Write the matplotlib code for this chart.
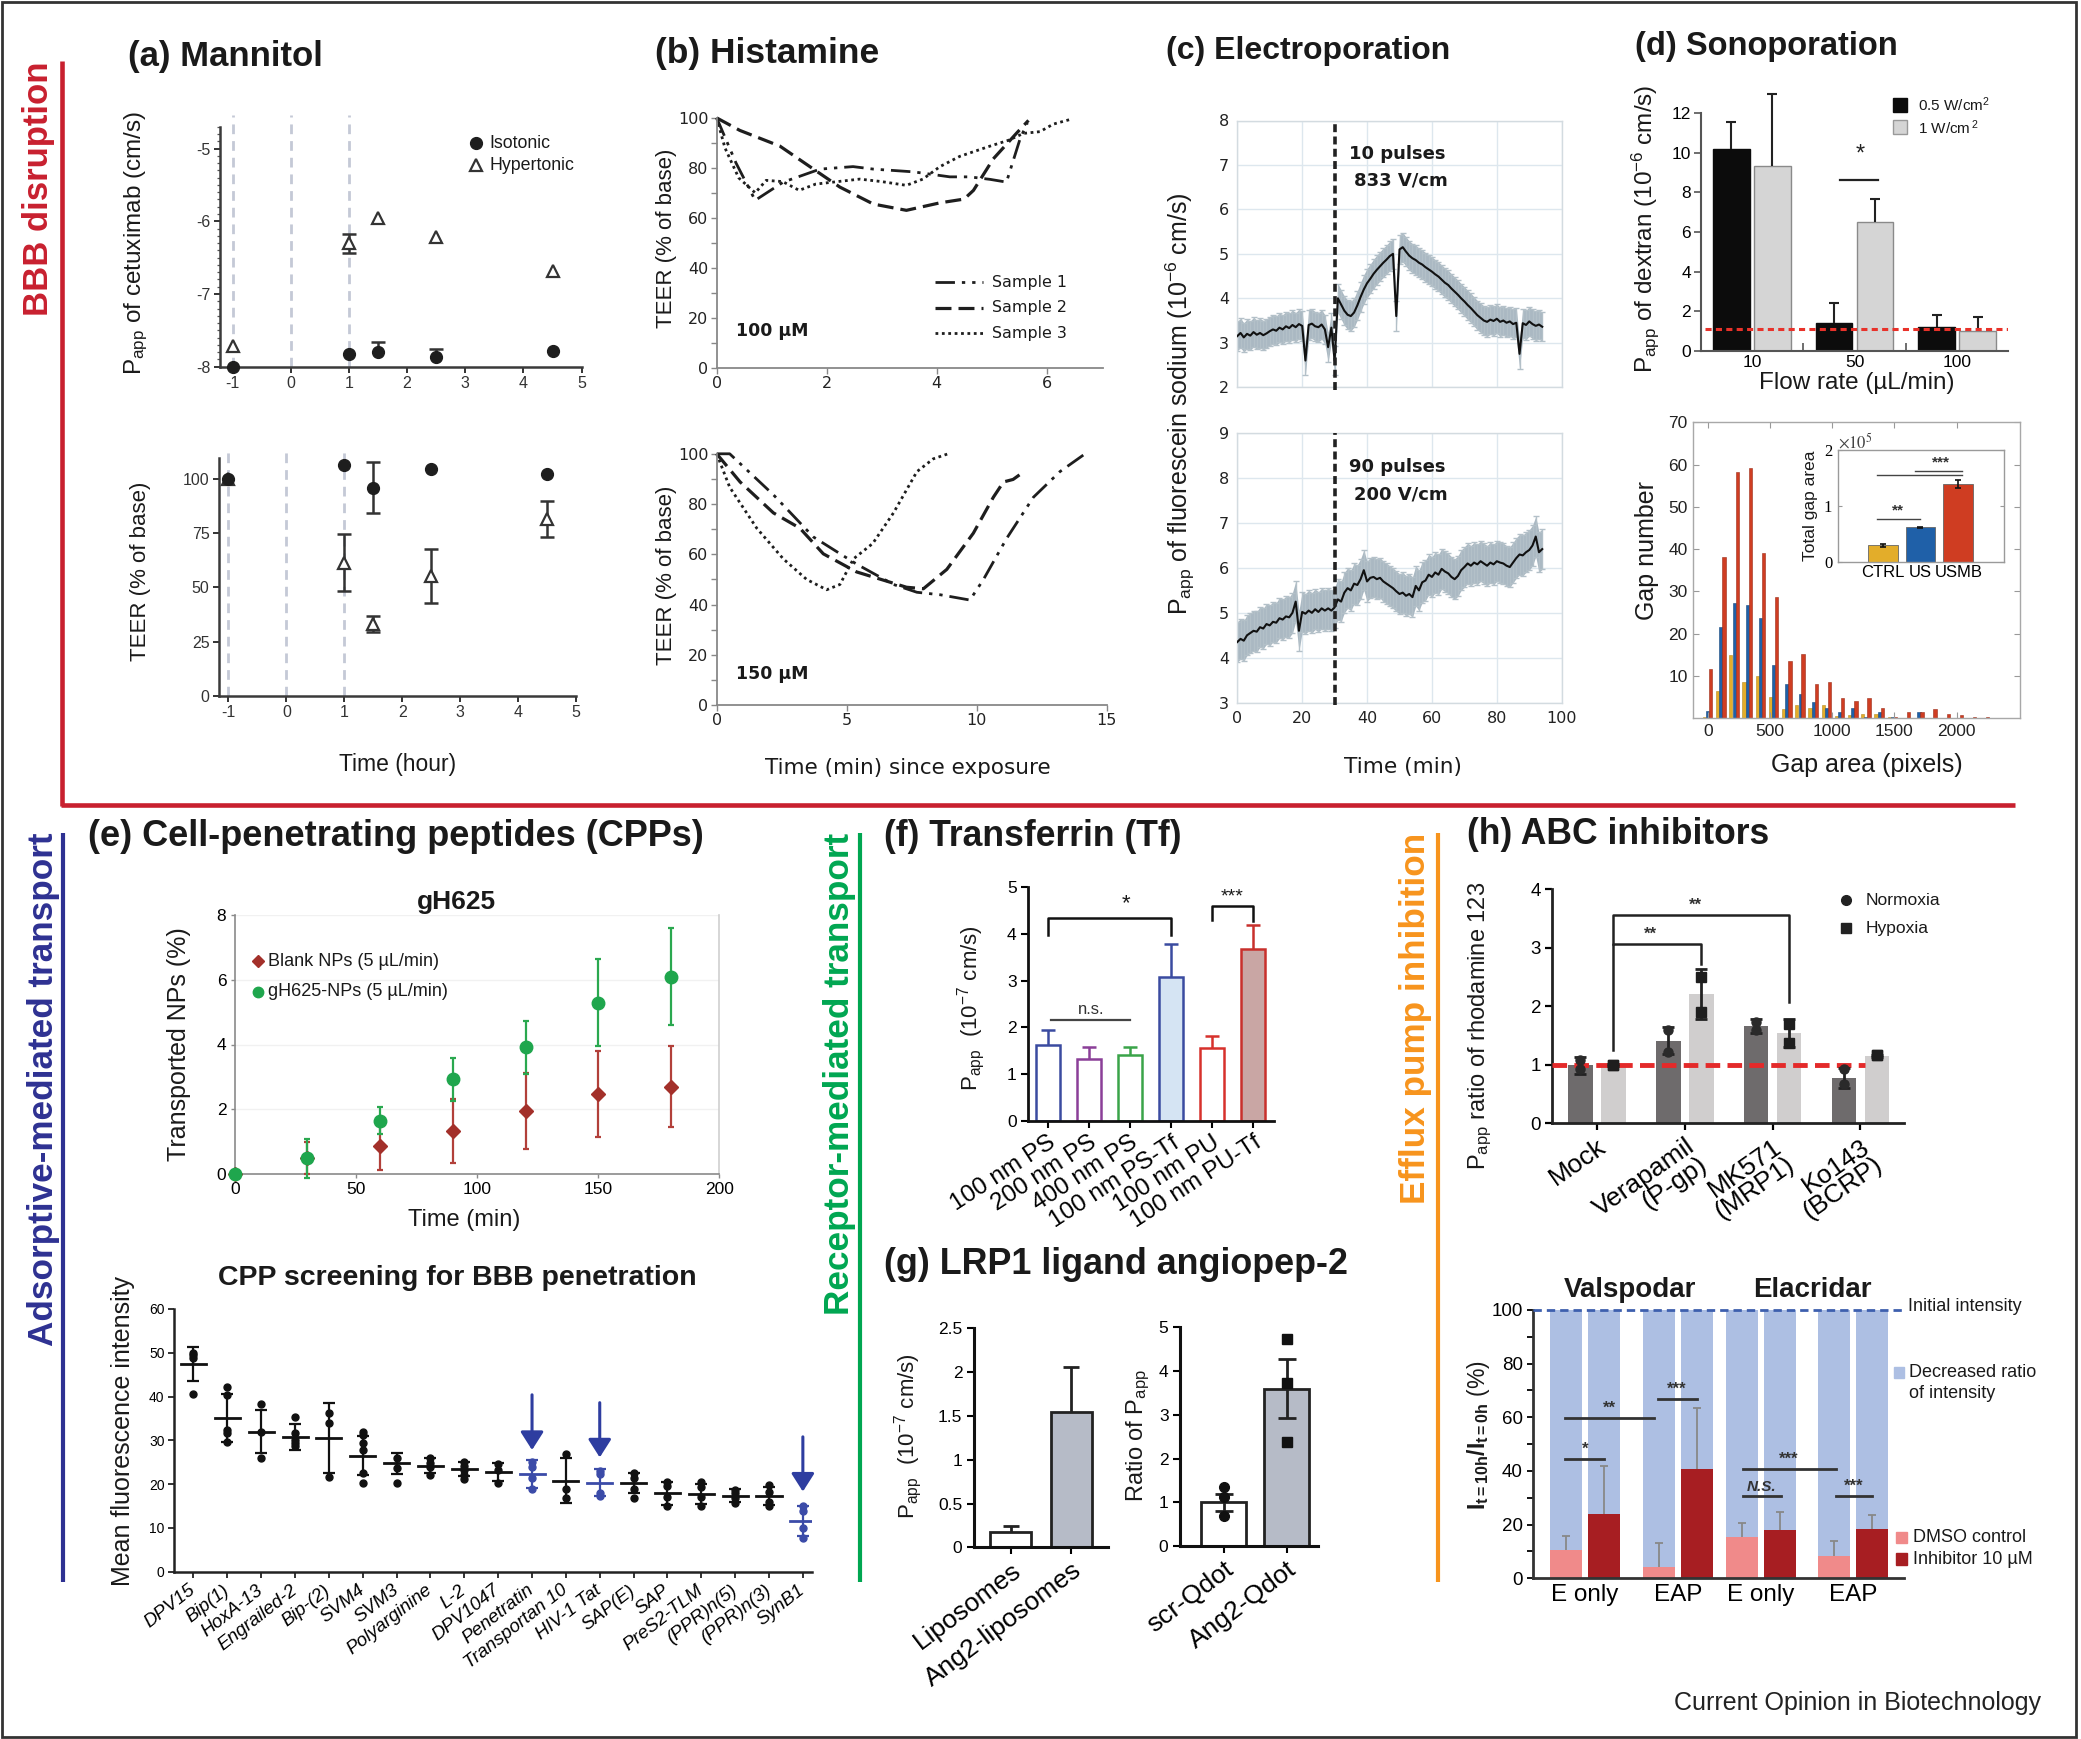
import numpy as np
import matplotlib
matplotlib.use('Agg')
import matplotlib.pyplot as plt
from matplotlib.lines import Line2D
from matplotlib.patches import Rectangle
from matplotlib.ticker import MultipleLocator

plt.rcParams['font.family'] = ['Liberation Sans', 'DejaVu Sans']
plt.rcParams['mathtext.fontset'] = 'custom'
plt.rcParams['mathtext.rm'] = 'Liberation Sans'
plt.rcParams['mathtext.it'] = 'Liberation Sans:italic'
plt.rcParams['mathtext.bf'] = 'Liberation Sans:bold'
plt.rcParams['axes.unicode_minus'] = False
plt.rcParams['text.color'] = '#1a1a1a'

# ====================== DATA ======================
# (a) Mannitol
a_time = [-1, 1, 1.5, 2.5, 4.5]
a_events = [-1, 0, 1]
a_papp_iso = [-8.0, -7.82, -7.80, -7.87, -7.78]
a_papp_iso_err = [0, 0, 0.14, 0.11, 0]
a_papp_hyper = [-7.72, -6.30, -5.96, -6.21, -6.69]
a_papp_hyper_err = [0, 0.13, 0, 0, 0]
a_teer_iso = [100, 106.6, 96.1, 104.8, 102.5]
a_teer_iso_err = [0, 0, 11.7, 0, 0]
a_teer_hyper = [100, 61.5, 33.1, 55.5, 81.5]
a_teer_hyper_err = [0, 13.0, 3.6, 12.5, 8.3]

# (b) Histamine  (time in min, TEER %)
b100_s1_t = [0, 0.35, 0.7, 1.21, 1.88, 2.48, 2.85, 3.58, 4.24, 4.6, 4.97, 5.27, 5.52, 5.65]
b100_s1_v = [100, 82, 67, 74.3, 79.5, 80.5, 79.5, 78.4, 76.4, 76.4, 75.4, 74.3, 91.8, 98]
b100_s2_t = [0, 0.42, 1.15, 1.76, 2.24, 2.85, 3.45, 4.06, 4.5, 4.67, 5.03, 5.45, 5.67]
b100_s2_v = [100, 95, 88.7, 79.5, 72.3, 65.5, 63, 66, 67.5, 71, 83.6, 93.8, 99]
b100_s3_t = [0, 0.15, 0.4, 0.7, 0.9, 1.2, 1.5, 1.8, 2.2, 2.6, 3.0, 3.45, 3.75, 4.06, 4.42, 4.97, 5.3, 5.58, 5.88, 6.12, 6.45]
b100_s3_v = [100, 88, 76, 70, 75, 74.5, 71, 73.5, 74.5, 75.5, 74.5, 73, 75.5, 80.5, 84.6, 88.7, 91, 93.8, 94.5, 97.5, 99.5]
b150_s1_t = [0, 0.5, 2.18, 3.72, 5.38, 6.8, 7.7, 8.6, 9.74, 10.26, 11.15, 12.18, 13.2, 14.17]
b150_s1_v = [100, 100, 83.7, 66.9, 56.1, 48, 44.9, 43.9, 41.8, 50, 66.3, 82.7, 92.9, 100]
b150_s2_t = [0, 0.9, 2.18, 3.2, 4.1, 5.38, 7.3, 7.95, 8.85, 9.87, 10.64, 11.03, 11.4, 11.67]
b150_s2_v = [100, 88.8, 76.5, 70.4, 60.2, 53, 46.9, 46.3, 54, 68.4, 82.7, 88.8, 89.8, 91.8]
b150_s3_t = [0, 0.5, 1.54, 2.56, 3.46, 4.23, 4.74, 5.26, 6.0, 6.8, 7.7, 8.33, 8.9]
b150_s3_v = [100, 86.7, 70.4, 58.2, 50, 45.9, 48, 58.2, 64.3, 76.5, 92.9, 98, 100]

# (c) Electroporation: Papp sampled each minute from t = 0
c_top = [3.15, 3.22, 3.12, 3.2, 3.16, 3.24, 3.18, 3.22, 3.17, 3.21, 3.26, 3.3, 3.27, 3.34, 3.3, 3.37,
         3.33, 3.4, 3.35, 3.42, 3.38, 2.6, 3.4, 3.43, 3.37, 3.35, 3.41, 3.3, 2.9, 3.34, 2.6, 4.0, 3.86,
         3.72, 3.63, 3.6, 3.68, 3.84, 4.03, 4.2, 4.34, 4.44, 4.55, 4.64, 4.72, 4.8, 4.87, 4.95, 5.0,
         3.6, 5.1, 5.15, 5.05, 4.96, 4.9, 4.86, 4.8, 4.76, 4.7, 4.65, 4.6, 4.54, 4.49, 4.42, 4.35, 4.3,
         4.22, 4.15, 4.08, 4.0, 3.93, 3.85, 3.78, 3.7, 3.62, 3.56, 3.5, 3.47, 3.52, 3.49, 3.54, 3.47,
         3.5, 3.45, 3.48, 3.42, 3.45, 2.75, 3.44, 3.4, 3.48, 3.42, 3.38, 3.41, 3.36]
c_top_err = 0.33
c_bot = [4.35, 4.42, 4.38, 4.5, 4.55, 4.6, 4.58, 4.68, 4.65, 4.75, 4.72, 4.8, 4.78, 4.88, 4.85, 4.92,
         4.9, 5.0, 5.25, 4.6, 5.02, 4.98, 5.05, 5.0, 5.08, 5.02, 5.1, 5.05, 5.1, 5.05, 5.12, 5.3, 5.25,
         5.45, 5.55, 5.5, 5.65, 5.62, 5.75, 5.95, 5.7, 5.78, 5.8, 5.75, 5.78, 5.7, 5.65, 5.6, 5.55, 5.48,
         5.42, 5.45, 5.38, 5.42, 5.35, 5.6, 5.5, 5.68, 5.72, 5.85, 5.8, 5.9, 5.85, 5.98, 5.92, 5.88, 5.8,
         5.75, 5.82, 5.95, 6.02, 6.1, 6.05, 6.12, 6.08, 6.15, 6.1, 6.05, 6.12, 6.08, 6.15, 6.12, 6.1,
         6.05, 6.02, 6.12, 6.22, 6.3, 6.28, 6.35, 6.4, 6.5, 6.7, 6.35, 6.42]
c_bot_err = 0.45
c_pulse_time = 30

# (d) Sonoporation
d_flow = ['10', '50', '100']
d_p05 = [10.18, 1.42, 1.21]
d_p05_err = [1.40, 1.01, 0.59]
d_p1 = [9.34, 6.49, 1.01]
d_p1_err = [3.64, 1.16, 0.68]
d_baseline = 1.1
d_hist_ctrl = [0.4, 6.5, 14.9, 8.5, 9.9, 5.1, 2.1, 3.2, 2.4, 3.2, 0.6, 0.8, 1.1, 1.1, 0.4, 0, 0, 0, 0, 0, 0, 0, 0, 0]
d_hist_us = [1.7, 21.5, 27.3, 26.8, 23.8, 12.5, 8.1, 5.8, 3.8, 2.4, 1.5, 2.4, 0.4, 1.4, 0.4, 0, 1.4, 0, 0, 0, 0, 0, 0, 0]
d_hist_usmb = [11.7, 38.2, 58.3, 59.3, 39.2, 28.6, 13.5, 15.1, 8.1, 8.5, 4.7, 4.2, 4.7, 2.4, 0.4, 1.4, 1.4, 2.1, 1.1, 0.7, 0.2, 0.4, 0.1, 0.1]
d_bin_width = 106
d_groups = ['CTRL', 'US', 'USMB']
d_total = [0.30, 0.62, 1.40]
d_total_err = [0.02, 0.01, 0.07]

# (e) CPPs
e_time = [0, 30, 60, 90, 120, 150, 180]
e_blank = [0, 0.5, 0.85, 1.33, 1.95, 2.46, 2.7]
e_blank_err = [0, 0.5, 0.72, 1.0, 1.18, 1.33, 1.25]
e_gh = [0, 0.48, 1.65, 2.92, 3.91, 5.29, 6.1]
e_gh_err = [0, 0.6, 0.42, 0.65, 0.83, 1.35, 1.5]
cpp_names = ['DPV15', 'Bip(1)', 'HoxA-13', 'Engrailed-2', 'Bip-(2)', 'SVM4', 'SVM3', 'Polyarginine',
             'L-2', 'DPV1047', 'Penetratin', 'Transportan 10', 'HIV-1 Tat', 'SAP(E)', 'SAP',
             'PreS2-TLM', '(PPR)n(5)', '(PPR)n(3)', 'SynB1']
cpp_mean = [47.4, 35.2, 32.0, 30.8, 30.5, 26.5, 24.8, 24.2, 23.5, 22.8, 22.3, 20.8, 20.3, 20.2, 17.9,
            17.7, 17.4, 17.3, 11.6]
cpp_sem = [3.9, 5.5, 4.9, 2.9, 8.0, 4.5, 2.4, 1.7, 1.6, 2.0, 3.2, 5.1, 3.1, 2.3, 2.7, 2.3, 1.4, 2.0, 3.5]
cpp_points = [[50.0, 49.5, 48.8, 40.6], [42.1, 40.4, 32.4, 31.6, 29.7], [38.3, 31.8, 25.9],
              [35.4, 31.6, 30.1, 29.3, 28.6], [36.2, 34.0, 21.6], [32.0, 31.2, 29.3, 27.8, 22.5, 20.2],
              [25.9, 23.6, 20.3], [25.9, 24.9, 24.0, 22.2], [25.1, 24.1, 23.2, 22.1, 21.1],
              [24.6, 23.2, 20.2], [25.1, 24.0, 21.3, 18.8], [26.8, 19.0, 16.8], [23.1, 22.3, 18.0, 17.3],
              [22.5, 21.3, 19.0, 16.8], [20.6, 19.6, 17.1, 14.9], [20.6, 19.4, 17.0, 14.9],
              [18.7, 18.0, 16.8, 15.6], [19.8, 18.1, 16.0, 14.9], [14.9, 13.9, 9.9, 7.6]]
cpp_highlight = ['Penetratin', 'HIV-1 Tat', 'SynB1']

# (f) Transferrin
f_labels = ['100 nm PS', '200 nm PS', '400 nm PS', '100 nm PS-Tf', '100 nm PU', '100 nm PU-Tf']
f_vals = [1.62, 1.32, 1.40, 3.07, 1.55, 3.67]
f_err = [0.32, 0.25, 0.18, 0.72, 0.27, 0.52]

# (g) Angiopep-2
g1_labels = ['Liposomes', 'Ang2-liposomes']
g1_vals = [0.17, 1.54]
g1_err = [0.07, 0.52]
g2_labels = ['scr-Qdot', 'Ang2-Qdot']
g2_vals = [1.0, 3.6]
g2_err = [0.2, 0.68]
g2_scr_pts = [1.36, 1.11, 0.69]
g2_ang_pts = [4.73, 3.73, 2.37]

# (h) ABC inhibitors
h_groups = ['Mock', 'Verapamil\n(P-gp)', 'MK571\n(MRP1)', 'Ko143\n(BCRP)']
h_norm = [0.99, 1.41, 1.66, 0.78]
h_norm_err = [0.14, 0.23, 0.12, 0.17]
h_hyp = [1.0, 2.21, 1.54, 1.15]
h_hyp_err = [0.02, 0.42, 0.24, 0.02]
h_norm_pts = [[1.08, 0.92], [1.6, 1.22], [1.6, 1.73], [0.92, 0.68]]
h_hyp_pts = [[1.0, 1.0], [2.5, 1.9], [1.7, 1.38], [1.16, 1.16]]
h2_groups = ['E only', 'EAP', 'E only', 'EAP']
h2_dmso = [10.6, 4.3, 15.5, 8.4]
h2_dmso_err = [5.3, 8.7, 5.0, 5.5]
h2_inh = [23.9, 40.6, 18.0, 18.4]
h2_inh_err = [18.1, 22.8, 6.8, 5.3]

# ====================== LAYOUT HELPERS ======================
W, H = 2081, 1739
fig = plt.figure(figsize=(W / 100, H / 100), dpi=100)


def add_ax(x0, y0, x1, y1):
    ax = fig.add_axes([x0 / W, 1 - y1 / H, (x1 - x0) / W, (y1 - y0) / H])
    ax.set_facecolor('none')
    return ax


def ftext(x, y, s, **kw):
    kw.setdefault('ha', 'center')
    kw.setdefault('va', 'center')
    return fig.text(x / W, 1 - y / H, s, **kw)


def fline(xs, ys, **kw):
    fig.add_artist(Line2D([x / W for x in xs], [1 - y / H for y in ys],
                          transform=fig.transFigure, **kw))


def fmark(x, y, **kw):
    fig.add_artist(Line2D([x / W], [1 - y / H], transform=fig.transFigure, ls='none', **kw))


def fpatch(x0, y0, x1, y1, color):
    fig.add_artist(Rectangle((x0 / W, 1 - y1 / H), (x1 - x0) / W, (y1 - y0) / H,
                             transform=fig.transFigure, color=color))


def style(ax, spines=('left', 'bottom'), color='#333', lw=1.5):
    for s in ax.spines:
        ax.spines[s].set_visible(s in spines)
        ax.spines[s].set_color(color)
        ax.spines[s].set_linewidth(lw)


def ebar(ax, x, y, lo, hi, color='#222', lw=1.5, cap=8, z=4):
    for xi, yi, l, h in zip(x, y, lo, hi):
        if l <= 0 and h <= 0:
            continue
        ax.plot([xi, xi], [yi - l, yi + h], color=color, lw=lw, zorder=z, clip_on=False,
                solid_capstyle='butt')
        for flag, yy in ((h > 0, yi + h), (l > 0, yi - l)):
            if flag:
                ax.plot([xi], [yy], marker='_', ms=cap, mew=lw, color=color, zorder=z, clip_on=False)


TITLE = dict(ha='left', va='center', weight='bold', color='#1a1a1a')

# ====================== SECTION FRAMES ======================
fig.add_artist(Rectangle((2 / W, 1 - 1737 / H), 2074 / W, 1735 / H, fill=False, ec='#333', lw=2,
                         transform=fig.transFigure))
RED, BLUE, GREEN, ORANGE = '#c8202f', '#2e3192', '#00a651', '#f7941d'
fline([62, 62], [61, 806], color=RED, lw=3.3, solid_capstyle='butt')
fline([60.8, 2015], [805, 805], color=RED, lw=3.3, solid_capstyle='butt')
ftext(38.8, 188.5, 'BBB disruption', rotation=90, size=25, weight='bold', color=RED)
fline([62.5, 62.5], [833, 1582], color=BLUE, lw=3, solid_capstyle='butt')
ftext(44, 833, 'Adsorptive-mediated transport', rotation=90, va='top', size=25.3, weight='bold', color=BLUE)
fline([860, 860], [833, 1582], color=GREEN, lw=3, solid_capstyle='butt')
ftext(840, 833, 'Receptor-mediated transport', rotation=90, va='top', size=25.3, weight='bold', color=GREEN)
fline([1438, 1438], [833, 1582], color=ORANGE, lw=3, solid_capstyle='butt')
ftext(1415, 833, 'Efflux pump inhibition', rotation=90, va='top', size=25.3, weight='bold', color=ORANGE)
ftext(1674, 1703, 'Current Opinion in Biotechnology', ha='left', size=18, color='#222')

# ====================== (a) Mannitol ======================
ftext(127.8, 56.7, '(a) Mannitol', size=25, **TITLE)
axa1 = add_ax(220.4, 126.7, 581.6, 366.7)
axa1.set_xlim(-1.21, 5.0)
axa1.set_ylim(-8.0, -4.70)
style(axa1, color='#3a3a3a', lw=1.8)
axa1.set_xticks(range(-1, 6))
axa1.set_yticks([-8, -7, -6, -5])
axa1.yaxis.set_minor_locator(MultipleLocator(0.1))
axa1.tick_params(which='major', direction='out', length=4, width=1.4, labelsize=11.5, colors='#333', pad=3)
axa1.tick_params(axis='y', which='minor', direction='out', length=2.5, width=0.9, colors='#555')
for xv in a_events:
    axa1.plot([xv, xv], [-8, -4.54], ls=(0, (3.5, 2.5)), color='#c4c9d6', lw=2, clip_on=False, zorder=0)
ebar(axa1, a_time, a_papp_iso, [0] * 5, a_papp_iso_err, color='#333', lw=1.8, cap=10)
ebar(axa1, a_time, a_papp_hyper, a_papp_hyper_err, a_papp_hyper_err, color='#333', lw=1.8, cap=10)
axa1.plot(a_time, a_papp_hyper, ls='none', marker='^', ms=9, mfc='white', mec='#333', mew=1.6, zorder=5)
axa1.plot(a_time, a_papp_iso, ls='none', marker='o', ms=8.5, color='#1e1e1e', zorder=6, clip_on=False)
fmark(475.5, 143.3, marker='o', ms=8.5, color='#1e1e1e')
fmark(475.5, 165, marker='^', ms=9, mfc='white', mec='#333', mew=1.6)
ftext(489.8, 143.3, 'Isotonic', ha='left', size=12.8)
ftext(489.8, 165, 'Hypertonic', ha='left', size=12.8)
ftext(136.7, 243, r'P$_{\rm app}$ of cetuximab (cm/s)', rotation=90, size=17.5)

axa2 = add_ax(219.2, 458.3, 576.3, 695.7)
axa2.set_xlim(-1.16, 5.0)
axa2.set_ylim(0, 109.7)
style(axa2, color='#3a3a3a', lw=1.8)
axa2.set_xticks(range(-1, 6))
axa2.set_yticks([0, 25, 50, 75, 100])
axa2.tick_params(which='major', direction='out', length=4, width=1.4, labelsize=11.5, colors='#333', pad=3)
for xv in a_events:
    axa2.plot([xv, xv], [0, 115], ls=(0, (3.5, 2.5)), color='#c4c9d6', lw=2, clip_on=False, zorder=0)
ebar(axa2, a_time, a_teer_iso, a_teer_iso_err, a_teer_iso_err, color='#333', lw=1.8, cap=10)
ebar(axa2, a_time, a_teer_hyper, a_teer_hyper_err, a_teer_hyper_err, color='#333', lw=1.8, cap=10)
axa2.plot(a_time, a_teer_hyper, ls='none', marker='^', ms=9, mfc='white', mec='#333', mew=1.6, zorder=5,
          clip_on=False)
axa2.plot(a_time, a_teer_iso, ls='none', marker='o', ms=8.5, color='#1e1e1e', zorder=6, clip_on=False)
ftext(140.8, 571.7, 'TEER (% of base)', rotation=90, size=16)
ftext(398, 765, 'Time (hour)', size=16.5)

# ====================== (b) Histamine ======================
ftext(655, 53.8, '(b) Histamine', size=25.5, **TITLE)
LS1 = (0, (7, 2.5, 1.2, 2.5, 1.2, 2.5))
LS2 = (0, (5, 2.2))
LS3 = (0, (1, 1.3))
for (box, xmax, xt, series, conc, cy) in [
        ((716.7, 117.9, 1102.7, 367.7), 7.02, [0, 2, 4, 6],
         [(b100_s1_t, b100_s1_v), (b100_s2_t, b100_s2_v), (b100_s3_t, b100_s3_v)], '100 µM', 330.8),
        ((716.7, 453.8, 1106.7, 705.1), 15.0, [0, 5, 10, 15],
         [(b150_s1_t, b150_s1_v), (b150_s2_t, b150_s2_v), (b150_s3_t, b150_s3_v)], '150 µM', 674.4)]:
    ax = add_ax(*box)
    ax.set_xlim(0, xmax)
    ax.set_ylim(0, 100)
    style(ax, color='#888', lw=1.3)
    ax.set_xticks(xt)
    ax.set_yticks(range(0, 101, 20))
    ax.yaxis.set_minor_locator(MultipleLocator(10))
    ax.tick_params(which='both', direction='out', length=4, width=1, color='#888', labelsize=11.5,
                   labelcolor='#222', labelfontfamily='DejaVu Sans', pad=2)
    for (t, v), ls, lw in zip(series, (LS1, LS2, LS3), (2.0, 2.3, 2.0)):
        ax.plot(t, v, color='#1e1e1e', lw=lw, ls=ls, clip_on=False)
    ftext(box[0] + 19, cy, conc, ha='left', size=12.5, weight='bold', family='DejaVu Sans')
for y, ls, lw, lab in [(282, LS1, 2.0, 'Sample 1'), (307.7, LS2, 2.3, 'Sample 2'), (333.3, LS3, 2.0, 'Sample 3')]:
    fline([935, 983], [y, y], color='#1e1e1e', lw=lw, ls=ls)
    ftext(991.7, y, lab, ha='left', size=11.4, family='DejaVu Sans')
ftext(666.7, 238.5, 'TEER (% of base)', rotation=90, size=16)
ftext(666.7, 575, 'TEER (% of base)', rotation=90, size=16)
ftext(908.3, 767.7, 'Time (min) since exposure', size=15.5, family='DejaVu Sans')

# ====================== (c) Electroporation ======================
ftext(1166, 51.3, '(c) Electroporation', size=23, **TITLE)
for box, vals, err, ylim, showx, txt, ty in [
        ((1237.3, 120.5, 1561.7, 387.2), c_top, c_top_err, (2, 8), False, ('10 pulses', '833 V/cm'), (153.8, 180.5)),
        ((1237.3, 433.3, 1561.7, 702.6), c_bot, c_bot_err, (3, 9), True, ('90 pulses', '200 V/cm'), (466.7, 494.9))]:
    ax = add_ax(*box)
    ax.set_xlim(0, 100)
    ax.set_ylim(*ylim)
    style(ax, spines=('left', 'bottom', 'top', 'right'), color='#d3dbe0', lw=1)
    ax.set_xticks(range(0, 101, 20))
    ax.set_yticks(range(ylim[0], ylim[1] + 1))
    ax.grid(color='#dde7ee', lw=1)
    ax.set_axisbelow(True)
    ax.tick_params(length=0, labelsize=11.5, labelcolor='#222', labelfontfamily='DejaVu Sans', pad=6,
                   labelbottom=showx)
    t = np.arange(len(vals))
    v = np.asarray(vals)
    ax.fill_between(t, v - err, v + err, color='#aab8c2', lw=0, zorder=1)
    ax.errorbar(t, v, yerr=err, fmt='none', ecolor='#b3c0c8', elinewidth=1, capsize=2.5, zorder=1)
    ax.plot(t, v, color='#111', lw=1.5, zorder=3)
    ax.plot([c_pulse_time, c_pulse_time], [ylim[0] - 0.06, ylim[1]], color='#222', lw=2.6,
            ls=(0, (2.2, 1.2)), clip_on=False, zorder=4)
    ftext(1349.3, ty[0], txt[0], ha='left', size=13, weight='bold', family='DejaVu Sans')
    ftext(1353.5, ty[1], txt[1], ha='left', size=13, weight='bold', family='DejaVu Sans')
ftext(1180, 403.8, r'P$_{\rm app}$ of fluorescein sodium (10$^{-6}$ cm/s)', rotation=90, size=18)
ftext(1403.3, 766.7, 'Time (min)', size=15.6, family='DejaVu Sans')

# ====================== (d) Sonoporation ======================
ftext(1635, 46.7, '(d) Sonoporation', size=23.5, **TITLE)
axd1 = add_ax(1700.7, 113.3, 2008.3, 350.7)
axd1.set_xlim(-0.5, 2.5)
axd1.set_ylim(0, 12)
style(axd1, color='#555', lw=1.5)
xd = np.arange(len(d_flow))
axd1.bar(xd - 0.2, d_p05, width=0.36, color='#0c0c0c', edgecolor='#0c0c0c', zorder=2)
axd1.bar(xd + 0.2, d_p1, width=0.36, color='#d5d5d5', edgecolor='#8a8a8a', lw=1, zorder=2)
ebar(axd1, xd - 0.2, d_p05, [0] * 3, d_p05_err, color='#222', lw=1.5, cap=7.5)
ebar(axd1, xd + 0.2, d_p1, [0] * 3, d_p1_err, color='#222', lw=1.5, cap=7.5)
axd1.plot([-0.46, 2.5], [d_baseline, d_baseline], color='#e8322a', lw=2.2, ls=(0, (2, 1.4)), zorder=5)
axd1.plot([0.86, 1.23], [8.63, 8.63], color='#222', lw=1.6)
axd1.text(1.06, 9.9, '*', ha='center', va='center', size=17, color='#222')
axd1.set_xticks(xd, d_flow)
axd1.set_xticks([0.5, 1.5], minor=True)
axd1.set_yticks(range(0, 13, 2))
axd1.tick_params(axis='x', which='major', length=0, labelsize=12.5, pad=3)
axd1.tick_params(axis='x', which='minor', direction='in', length=6, width=1.2, color='#555')
axd1.tick_params(axis='y', direction='out', length=5, width=1.2, labelsize=12.5, color='#555', pad=2)
fmark(1900, 105, marker='s', ms=10, color='#0c0c0c')
fmark(1900, 127.3, marker='s', ms=10, mfc='#d5d5d5', mec='#999', mew=1)
ftext(1918.3, 105, r'0.5 W/cm$^2$', ha='left', size=11)
ftext(1918.3, 127.3, r'1 W/cm$^{\,2}$', ha='left', size=11)
ftext(1645, 228.3, r'P$_{\rm app}$ of dextran (10$^{-6}$ cm/s)', rotation=90, size=17.5)
ftext(1856.7, 383.3, 'Flow rate (µL/min)', size=17.5)

axd2 = add_ax(1693.3, 422.3, 2020, 718.3)
axd2.set_xlim(-116, 2508)
axd2.set_ylim(0, 70)
style(axd2, spines=('left', 'bottom', 'top', 'right'), color='#a8a8a8', lw=1)
kb = np.arange(len(d_hist_usmb)) * d_bin_width
axd2.bar(kb - 27, d_hist_ctrl, width=26, color='#e3ad2a', edgecolor='#b88a20', lw=0.4)
axd2.bar(kb, d_hist_us, width=26, color='#1f60a8', edgecolor='#17477c', lw=0.4)
axd2.bar(kb + 24, d_hist_usmb, width=26, color='#cf3d22', edgecolor='#9c2d18', lw=0.4)
axd2.set_xticks(range(0, 2001, 500))
axd2.set_yticks(range(10, 71, 10))
axd2.tick_params(direction='in', top=True, right=True, length=4, width=0.8, color='#999',
                 labelsize=12.5, labelcolor='#222', pad=4)
ftext(1647.3, 550, 'Gap number', rotation=90, size=18)
ftext(1866.7, 765, 'Gap area (pixels)', size=18)

axi = add_ax(1837.7, 450, 2004, 562.3)
axi.set_xlim(-1.19, 3.21)
axi.set_ylim(0, 2)
axi.set_facecolor('white')
style(axi, spines=('left', 'bottom', 'top', 'right'), color='#9a9a9a', lw=1)
xi = np.arange(len(d_groups))
axi.bar(xi, d_total, width=0.79, color=['#e3ad2a', '#1f60a8', '#cf3d22'], edgecolor='#666', lw=0.6)
ebar(axi, xi, d_total, d_total_err, d_total_err, color='#111', lw=1.2, cap=4)
axi.plot([-0.16, 1.0], [0.77, 0.77], color='#444', lw=1)
axi.plot([0.85, 2.09], [1.62, 1.62], color='#444', lw=1)
axi.plot([-0.16, 2.1], [1.56, 1.56], color='#444', lw=1)
axi.text(0.41, 0.92, '**', ha='center', va='center', size=11, weight='bold', color='#333')
axi.text(1.53, 1.78, '***', ha='center', va='center', size=11, weight='bold', color='#333')
axi.set_xticks(xi, d_groups)
axi.set_yticks([0, 1, 2])
axi.tick_params(axis='x', length=0, labelsize=12, pad=2)
axi.tick_params(axis='y', direction='in', right=True, length=3, color='#999', labelsize=12,
                labelfontfamily='Liberation Serif', pad=4)
ftext(1838, 441.7, r'$\times10^{5}$', ha='left', size=12, color='#444', math_fontfamily='stix')
ftext(1810, 506, 'Total gap area', rotation=90, size=12.5)

# ====================== (e) CPPs ======================
ftext(87.8, 836.7, '(e) Cell-penetrating peptides (CPPs)', size=26, **TITLE)
axe1 = add_ax(234.7, 915, 719.4, 1174)
axe1.set_xlim(0, 200)
axe1.set_ylim(0, 8)
style(axe1, spines=('left', 'bottom', 'right'), color='#8a8a8a', lw=1.2)
axe1.spines['right'].set_color('#cfcfcf')
axe1.yaxis.grid(color='#f1f1f1', lw=1)
axe1.set_axisbelow(True)
axe1.set_xticks(range(0, 201, 50))
axe1.set_yticks(range(0, 9, 2))
axe1.tick_params(direction='out', length=3, width=1, color='#8a8a8a', labelsize=12.5, pad=3)
ebar(axe1, e_time, e_blank, e_blank_err, e_blank_err, color='#b2403a', lw=1.6, cap=5)
ebar(axe1, e_time, e_gh, e_gh_err, e_gh_err, color='#2aa84f', lw=1.6, cap=5)
axe1.plot(e_time, e_blank, ls='none', marker='D', ms=7.5, color='#a3302a', zorder=6, clip_on=False)
axe1.plot(e_time, e_gh, ls='none', marker='o', ms=9, color='#1fa64d', zorder=6, clip_on=False)
fmark(257.7, 961, marker='D', ms=6, color='#a3302a')
fmark(257.7, 991.7, marker='o', ms=7.5, color='#1fa64d')
ftext(267.9, 961, 'Blank NPs (5 µL/min)', ha='left', size=13)
ftext(267.9, 991.7, 'gH625-NPs (5 µL/min)', ha='left', size=13)
ftext(456.6, 901.7, 'gH625', size=19, weight='bold')
ftext(178.6, 1044, 'Transported NPs (%)', rotation=90, size=18)
ftext(464.3, 1220, 'Time (min)', size=17)

axe2 = add_ax(174.2, 1309, 812, 1571.7)
axe2.set_xlim(-0.57, 18.27)
axe2.set_ylim(0, 60)
style(axe2, color='#222', lw=1.8)
xc = np.arange(len(cpp_names))
for i, (m, s, pts, name) in enumerate(zip(cpp_mean, cpp_sem, cpp_points, cpp_names)):
    col = '#3b4ba8' if name in cpp_highlight else '#111'
    axe2.plot([i - 0.37, i + 0.37], [m, m], color=col, lw=2)
    ebar(axe2, [i], [m], [s], [s], color=col, lw=1.6, cap=9)
    axe2.plot([i] * len(pts), pts, ls='none', marker='o', ms=5, color=col, zorder=5)
for name, start, tip in [('Penetratin', 40.4, 27.8), ('HIV-1 Tat', 38.6, 26.1), ('SynB1', 30.8, 18.3)]:
    i = cpp_names.index(name)
    axe2.annotate('', xy=(i, tip), xytext=(i, start),
                  arrowprops=dict(arrowstyle='-|>,head_width=0.35,head_length=0.55', color='#2e3da0',
                                  lw=2.2, mutation_scale=20, shrinkA=0, shrinkB=0))
axe2.tick_params(axis='both', direction='out', length=4, width=1.3, color='#222', pad=3)
axe2.tick_params(axis='y', labelsize=10)
axe2.tick_params(axis='x', pad=8)
axe2.set_xticks(xc)
axe2.set_xticklabels(cpp_names, rotation=38, ha='right', va='center', rotation_mode='anchor',
                     style='italic', size=13.5)
axe2.set_yticks(range(0, 61, 10))
ftext(457.6, 1278.3, 'CPP screening for BBB penetration', size=20.5, weight='bold')
ftext(122.9, 1431, 'Mean fluorescence intensity', rotation=90, size=18)

# ====================== (f) Transferrin ======================
ftext(883.7, 836.7, '(f) Transferrin (Tf)', size=25.6, **TITLE)
axf = add_ax(1027.8, 887.3, 1273.5, 1120.7)
axf.set_xlim(-0.49, 5.5)
axf.set_ylim(0, 5)
style(axf, color='#111', lw=2)
f_edge = ['#3a4ba0', '#8b3f98', '#3aa449', '#3a4ba0', '#d7312c', '#c8302c']
f_face = ['white', 'white', 'white', '#d5e4f3', 'white', '#c9a6a4']
xf = np.arange(len(f_labels))
axf.bar(xf, f_vals, width=0.6, color=f_face, edgecolor=f_edge, lw=1.8, zorder=2)
for i in range(len(xf)):
    ebar(axf, [xf[i]], [f_vals[i]], [0], [f_err[i]], color=f_edge[i], lw=1.8, cap=10)
axf.plot([0, 0, 3, 3], [3.98, 4.34, 4.34, 3.98], color='#111', lw=1.8)
axf.text(1.9, 4.42, '*', ha='center', va='bottom', size=16)
axf.plot([4, 4, 5, 5], [4.29, 4.6, 4.6, 4.27], color='#111', lw=1.8)
axf.text(4.5, 4.62, '***', ha='center', va='bottom', size=14)
axf.plot([0.08, 2.0], [2.16, 2.16], color='#444', lw=1.6)
axf.text(1.05, 2.22, 'n.s.', ha='center', va='bottom', size=12, color='#333')
axf.tick_params(direction='out', length=5, width=1.5, pad=3)
axf.tick_params(axis='y', labelsize=12.5)
axf.set_xticks(xf)
axf.set_xticklabels(f_labels, rotation=33, ha='right', va='top', rotation_mode='anchor', size=17.5)
axf.set_yticks(range(0, 6))
ftext(971.4, 1008, r'P$_{\rm app}$  (10$^{-7}$ cm/s)', rotation=90, size=16)

# ====================== (g) LRP1 ligand angiopep-2 ======================
ftext(883.7, 1265, '(g) LRP1 ligand angiopep-2', size=25.8, **TITLE)
axg1 = add_ax(973.5, 1328.3, 1108.2, 1547.3)
axg1.set_xlim(-0.62, 1.61)
axg1.set_ylim(0, 2.5)
style(axg1, color='#111', lw=2.2)
axg1.bar([0, 1], g1_vals, width=0.68, color=['white', '#b6bbc7'], edgecolor='#222', lw=2, zorder=2)
ebar(axg1, [0, 1], g1_vals, [0, 0], g1_err, color='#222', lw=2, cap=12)
axg1.tick_params(direction='out', length=5, width=1.5, pad=3)
axg1.tick_params(axis='y', labelsize=12.5)
axg1.set_xticks([0, 1])
axg1.set_xticklabels(g1_labels, rotation=37, ha='right', va='top', rotation_mode='anchor', size=19)
axg1.set_yticks([0, 0.5, 1, 1.5, 2, 2.5])
axg1.set_yticklabels(['0', '0.5', '1', '1.5', '2', '2.5'])
ftext(908.2, 1436, r'P$_{\rm app}$  (10$^{-7}$ cm/s)', rotation=90, size=16)

axg2 = add_ax(1179.6, 1327.3, 1317.6, 1546)
axg2.set_xlim(-0.7, 1.49)
axg2.set_ylim(0, 5)
style(axg2, color='#111', lw=2.2)
axg2.bar([0, 1], g2_vals, width=0.71, color=['white', '#b6bbc7'], edgecolor='#222', lw=2, zorder=2)
ebar(axg2, [0, 1], g2_vals, g2_err, g2_err, color='#222', lw=2, cap=13, z=4)
axg2.plot([0] * len(g2_scr_pts), g2_scr_pts, ls='none', marker='o', ms=7, color='#111', zorder=5)
axg2.plot([1] * len(g2_ang_pts), g2_ang_pts, ls='none', marker='s', ms=7, color='#111', zorder=5)
axg2.tick_params(direction='out', length=5, width=1.5, pad=3)
axg2.tick_params(axis='y', labelsize=12.5)
axg2.set_xticks([0, 1])
axg2.set_xticklabels(g2_labels, rotation=37, ha='right', va='top', rotation_mode='anchor', size=19)
axg2.set_yticks(range(0, 6))
ftext(1138.8, 1436, r'Ratio of P$_{\rm app}$', rotation=90, size=17)

# ====================== (h) ABC inhibitors ======================
ftext(1467.4, 835, '(h) ABC inhibitors', size=25.6, **TITLE)
axh1 = add_ax(1552.2, 889.3, 1904.3, 1123.3)
axh1.set_xlim(-0.51, 3.5)
axh1.set_ylim(0, 4)
style(axh1, color='#222', lw=2)
xh = np.arange(len(h_groups))
axh1.bar(xh - 0.188, h_norm, width=0.28, color='#6e6b6c', zorder=2)
axh1.bar(xh + 0.188, h_hyp, width=0.28, color='#d0cece', zorder=2)
axh1.plot([-0.51, 3.05], [1, 1], color='#e42a2a', lw=3.5, ls=(0, (3, 1.5)), zorder=3)
ebar(axh1, xh - 0.188, h_norm, h_norm_err, h_norm_err, color='#222', lw=2, cap=8, z=5)
ebar(axh1, xh + 0.188, h_hyp, h_hyp_err, h_hyp_err, color='#222', lw=2, cap=8, z=5)
for i in range(len(xh)):
    axh1.plot([xh[i] - 0.188] * 2, h_norm_pts[i], ls='none', marker='o', ms=6.5, color='#2a2a2a', zorder=6)
    axh1.plot([xh[i] + 0.188] * 2, h_hyp_pts[i], ls='none', marker='s', ms=6.5, color='#1e1e1e', zorder=6)
axh1.plot([0.188, 0.188, 1.188, 1.188], [1.25, 3.06, 3.06, 2.73], color='#222', lw=1.8)
axh1.plot([0.188, 0.188, 2.188, 2.188], [3.06, 3.56, 3.56, 2.08], color='#222', lw=1.8)
axh1.text(0.61, 3.1, '**', ha='center', va='bottom', size=12, weight='bold', color='#333')
axh1.text(1.12, 3.6, '**', ha='center', va='bottom', size=12, weight='bold', color='#333')
axh1.tick_params(direction='out', length=5, width=1.6, pad=3)
axh1.tick_params(axis='y', labelsize=13.5)
axh1.set_xticks(xh)
axh1.set_xticklabels(h_groups, rotation=35, ha='right', va='top', rotation_mode='anchor', size=19,
                     multialignment='right', linespacing=0.9)
axh1.set_yticks(range(0, 5))
fmark(1845.7, 900, marker='o', ms=7, color='#222')
fmark(1845.7, 928.3, marker='s', ms=6.5, color='#222')
ftext(1865.2, 900, 'Normoxia', ha='left', size=12.5)
ftext(1865.2, 928.3, 'Hypoxia', ha='left', size=12.5)
ftext(1480.4, 1026, r'P$_{\rm app}$ ratio of rhodamine 123', rotation=90, size=17)

axh2 = add_ax(1532.6, 1310, 1904.3, 1578.3)
axh2.set_xlim(-1.37, 8.33)
axh2.set_ylim(0, 100)
style(axh2, color='#333', lw=2)
pair = np.array([0, 2.43, 4.59, 6.99])
xs_d, xs_i = pair - 0.5, pair + 0.5
axh2.bar(np.concatenate([xs_d, xs_i]), [100] * 8, width=0.83, color='#adbfe3', zorder=1)
axh2.bar(xs_d, h2_dmso, width=0.83, color='#f08a8a', zorder=2)
axh2.bar(xs_i, h2_inh, width=0.83, color='#a71e22', zorder=2)
ebar(axh2, xs_d, h2_dmso, [0] * 4, h2_dmso_err, color='#888', lw=1.3, cap=6)
ebar(axh2, xs_i, h2_inh, [0] * 4, h2_inh_err, color='#888', lw=1.3, cap=6)
axh2.plot([-1.37, 8.33], [100, 100], color='#3d5fae', lw=2, ls=(0, (3, 1.8)), clip_on=False, zorder=4)
for (x0, x1, y) in [(-0.52, 0.5, 44.5), (-0.52, 1.8, 59.6), (1.9, 2.92, 66.8),
                    (4.13, 6.54, 40.7), (4.13, 5.1, 30.8), (6.55, 7.48, 30.8)]:
    axh2.plot([x0, x1], [y, y], color='#333', lw=2, zorder=5)
axh2.text(0.0, 45.3, '*', ha='center', va='bottom', size=12, weight='bold', color='#333')
axh2.text(0.64, 60.4, '**', ha='center', va='bottom', size=12, weight='bold', color='#333')
axh2.text(2.4, 67.6, '***', ha='center', va='bottom', size=12, weight='bold', color='#333')
axh2.text(5.3, 41.5, '***', ha='center', va='bottom', size=12, weight='bold', color='#333')
axh2.text(4.6, 31.6, 'N.S.', ha='center', va='bottom', size=11, weight='bold', style='italic', color='#333')
axh2.text(7.0, 31.6, '***', ha='center', va='bottom', size=12, weight='bold', color='#333')
axh2.tick_params(axis='x', length=0, pad=4)
axh2.tick_params(axis='y', which='both', direction='out', length=4, width=1.3, labelsize=13.5, pad=3)
axh2.set_xticks(pair)
axh2.set_xticklabels(h2_groups, size=17.5)
axh2.set_yticks(range(0, 101, 20))
axh2.yaxis.set_minor_locator(MultipleLocator(10))
ftext(1630.4, 1290, 'Valspodar', size=20, weight='bold')
ftext(1812.2, 1290, 'Elacridar', size=20, weight='bold')
ftext(1907.8, 1306.7, 'Initial intensity', ha='left', size=13)
fpatch(1893.5, 1366.7, 1904.3, 1378.3, '#adbfe3')
ftext(1908.7, 1372.7, 'Decreased ratio', ha='left', size=13)
ftext(1908.7, 1394, 'of intensity', ha='left', size=13)
fpatch(1895.7, 1531.7, 1906.5, 1543.3, '#f08a8a')
fpatch(1895.7, 1553, 1906.5, 1565, '#a71e22')
ftext(1913, 1537, 'DMSO control', ha='left', size=13)
ftext(1913, 1559, 'Inhibitor 10 µM', ha='left', size=13)
ftext(1478.3, 1435, r'$\mathbf{I_{t=10h}/I_{t=0h}}$ (%)', rotation=90, size=16.5)

fig.savefig('out.png', dpi=100)
